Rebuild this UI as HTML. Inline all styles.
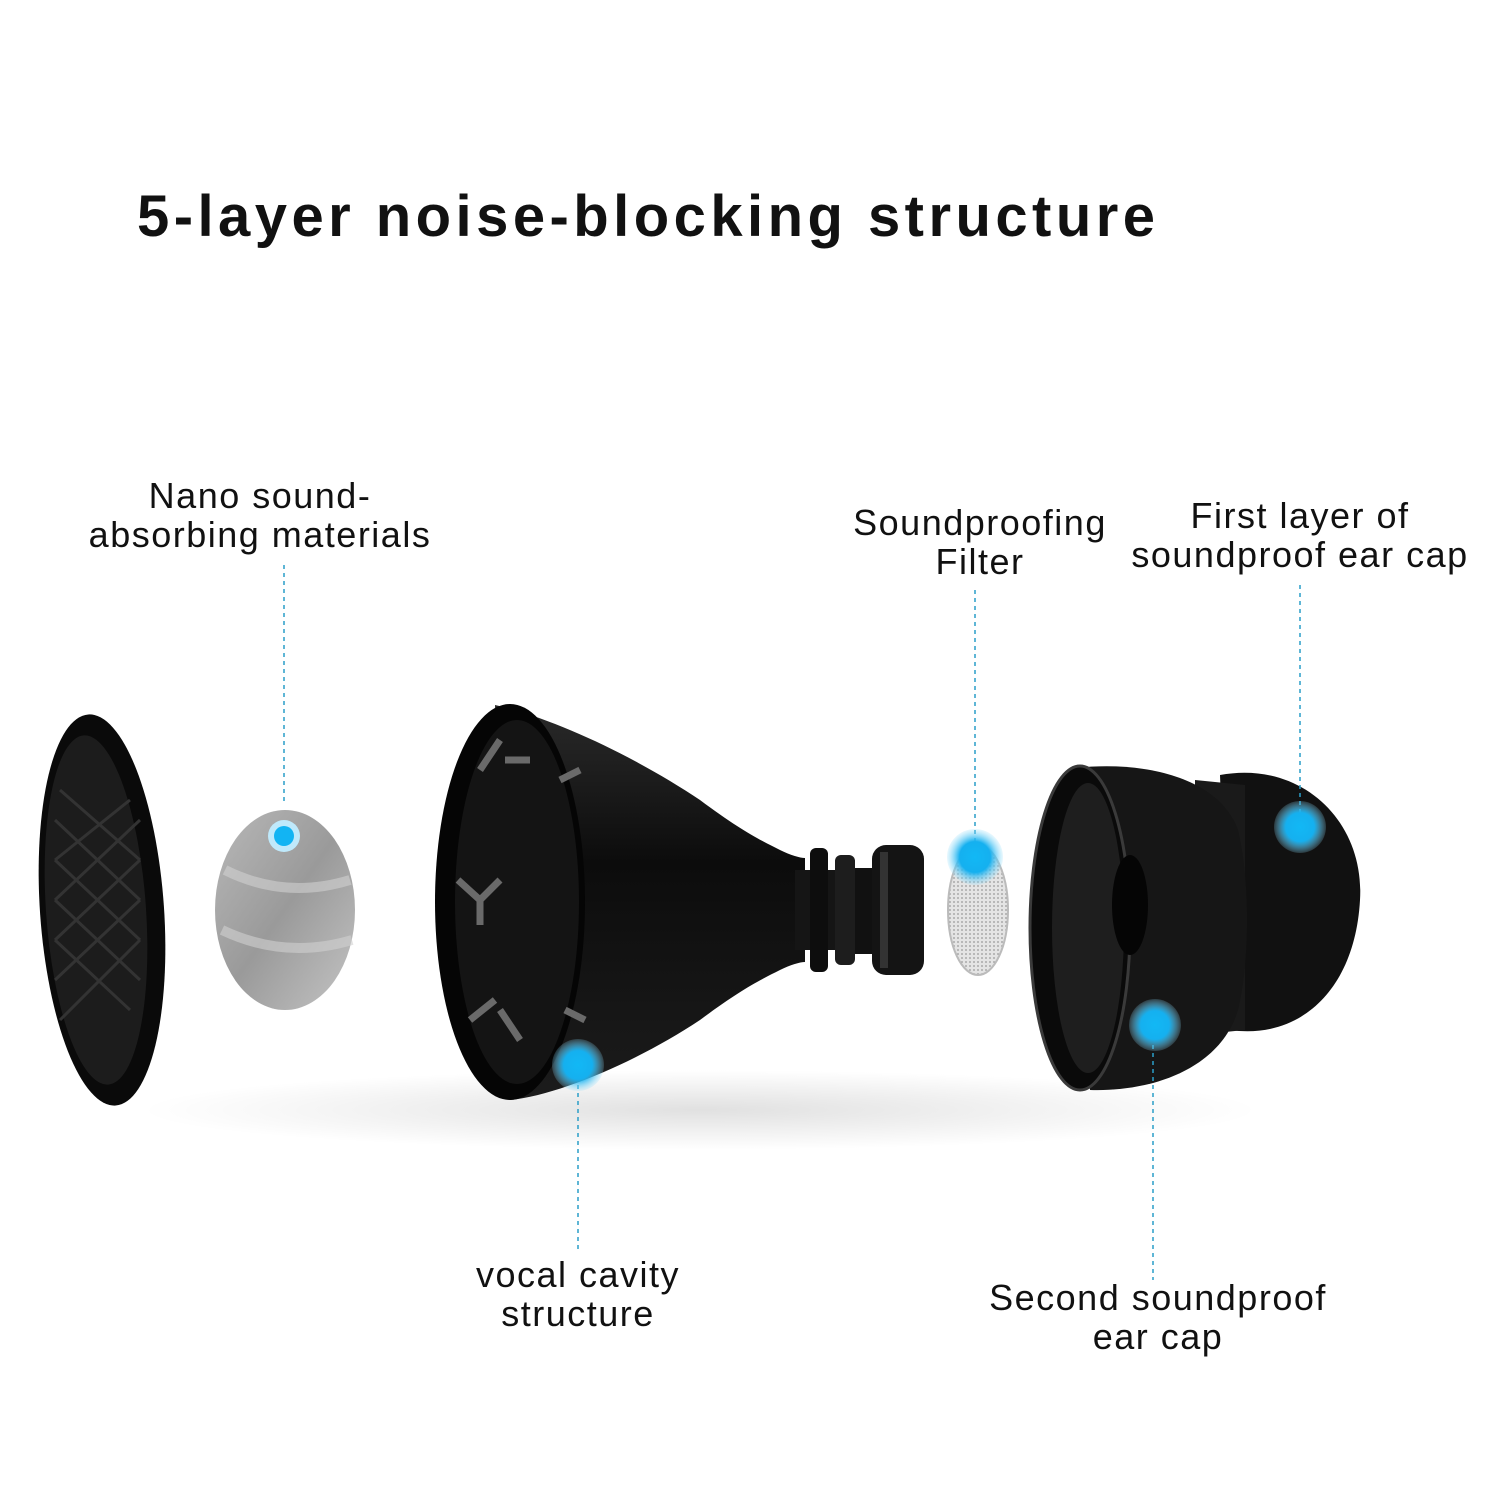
<!DOCTYPE html>
<html><head><meta charset="utf-8"><style>
html,body{margin:0;padding:0;background:#fff}
svg{display:block}
text{font-family:"Liberation Sans",sans-serif;fill:#111}
</style></head><body>
<svg width="1500" height="1500" viewBox="0 0 1500 1500" xmlns="http://www.w3.org/2000/svg">
<defs>
<radialGradient id="blue" cx="50%" cy="50%" r="50%">
<stop offset="0%" stop-color="#12b8f5"/><stop offset="55%" stop-color="#15b0ef"/><stop offset="100%" stop-color="#8fdcfa" stop-opacity="0.2"/>
</radialGradient>
<linearGradient id="gray" x1="0" y1="0" x2="1" y2="1">
<stop offset="0" stop-color="#b8b8b8"/><stop offset="0.5" stop-color="#9a9a9a"/><stop offset="1" stop-color="#c4c4c4"/>
</linearGradient>
<linearGradient id="body" x1="0" y1="0" x2="0" y2="1">
<stop offset="0" stop-color="#2a2a2a"/><stop offset="0.4" stop-color="#0c0c0c"/><stop offset="1" stop-color="#1c1c1c"/>
</linearGradient>
<pattern id="mesh" width="4" height="4" patternUnits="userSpaceOnUse">
<rect width="4" height="4" fill="#e4e4e4"/><circle cx="2" cy="2" r="0.9" fill="#999"/>
</pattern>
<radialGradient id="shadow" cx="50%" cy="50%" r="50%">
<stop offset="0" stop-color="#000" stop-opacity="0.12"/><stop offset="1" stop-color="#000" stop-opacity="0"/>
</radialGradient>
</defs>
<rect width="1500" height="1500" fill="#fff"/>
<text x="137" y="236" font-size="58" font-weight="bold" textLength="1018" lengthAdjust="spacing">5-layer noise-blocking structure</text>

<ellipse cx="700" cy="1110" rx="560" ry="40" fill="url(#shadow)"/>

<!-- left disc -->
<ellipse cx="102" cy="910" rx="62" ry="196" fill="#0a0a0a" transform="rotate(-4 102 910)"/>
<ellipse cx="96" cy="910" rx="50" ry="175" fill="#1c1c1c" transform="rotate(-4 96 910)"/>
<g stroke="#333" stroke-width="3" fill="none">
<path d="M55 820 L140 900 M55 860 L140 940 M55 900 L140 980 M55 940 L130 1010 M60 790 L140 860"/>
<path d="M55 900 L140 820 M55 940 L140 860 M55 980 L140 900 M60 1020 L140 940 M55 860 L130 800"/>
</g>

<!-- gray oval -->
<ellipse cx="285" cy="910" rx="70" ry="100" fill="url(#gray)"/>
<path d="M225 870 Q285 900 350 880 M222 930 Q285 960 352 940" stroke="#d0d0d0" stroke-width="10" fill="none" opacity="0.6"/>

<!-- funnel body -->
<path d="M495 705 C560 720 640 760 700 800 C740 830 760 840 780 850 C790 855 800 858 805 858 L805 962 C800 962 790 965 780 970 C760 980 740 990 700 1020 C640 1060 560 1095 510 1100 Z" fill="url(#body)"/>
<ellipse cx="510" cy="902" rx="75" ry="198" fill="#050505"/>
<ellipse cx="517" cy="902" rx="62" ry="182" fill="#141414"/>
<g stroke="#6a6a6a" stroke-width="7" fill="none">
<path d="M480 770 L500 740 M505 760 L530 760"/>
<path d="M458 880 L480 900 M480 900 L500 880 M480 900 L480 925"/>
<path d="M470 1020 L495 1000 M500 1010 L520 1040"/>
<path d="M560 780 L580 770 M565 1010 L585 1020"/>
</g>
<!-- stem -->
<rect x="795" y="870" width="40" height="80" fill="#151515"/>
<rect x="810" y="848" width="18" height="124" rx="6" fill="#0d0d0d"/>
<rect x="835" y="855" width="20" height="110" rx="6" fill="#1d1d1d"/>
<rect x="855" y="868" width="20" height="86" fill="#111"/>
<rect x="872" y="845" width="52" height="130" rx="14" fill="#141414"/>
<rect x="880" y="852" width="8" height="116" fill="#333"/>

<!-- filter -->
<ellipse cx="978" cy="910" rx="30" ry="65" fill="url(#mesh)" stroke="#bbb" stroke-width="2"/>

<!-- ear cap -->
<path d="M1220 775 C1300 760 1365 820 1360 900 C1355 990 1300 1040 1230 1030 Z" fill="#111"/>
<path d="M1195 780 L1245 785 L1245 1030 L1195 1035 Z" fill="#1a1a1a"/>
<path d="M1075 768 C1150 760 1220 780 1238 830 C1250 880 1250 960 1238 1010 C1220 1070 1150 1092 1090 1090 Z" fill="#161616"/>
<ellipse cx="1080" cy="928" rx="50" ry="162" fill="#0a0a0a" stroke="#3a3a3a" stroke-width="3"/>
<ellipse cx="1088" cy="928" rx="36" ry="145" fill="#1e1e1e"/>
<ellipse cx="1130" cy="905" rx="18" ry="50" fill="#050505"/>

<!-- dotted lines -->
<g stroke="#2a9ec8" stroke-width="1.5" stroke-dasharray="4 4" fill="none">
<line x1="284" y1="565" x2="284" y2="805"/>
<line x1="578" y1="1085" x2="578" y2="1250"/>
<line x1="975" y1="590" x2="975" y2="845"/>
<line x1="1300" y1="585" x2="1300" y2="815"/>
<line x1="1153" y1="1045" x2="1153" y2="1280"/>
</g>

<!-- dots -->
<circle cx="284" cy="836" r="16" fill="#bfe9fb"/><circle cx="284" cy="836" r="10" fill="#12b4f3"/>
<circle cx="578" cy="1065" r="26" fill="url(#blue)"/>
<circle cx="975" cy="857" r="28" fill="url(#blue)"/>
<circle cx="1300" cy="827" r="26" fill="url(#blue)"/>
<circle cx="1155" cy="1025" r="26" fill="url(#blue)"/>

<!-- labels -->
<g font-size="36" text-anchor="middle" letter-spacing="1.5">
<text x="260" y="508">Nano sound-</text>
<text x="260" y="547">absorbing materials</text>
<text x="980" y="535">Soundproofing</text>
<text x="980" y="574">Filter</text>
<text x="1300" y="528">First layer of</text>
<text x="1300" y="567">soundproof ear cap</text>
<text x="578" y="1287">vocal cavity</text>
<text x="578" y="1326">structure</text>
<text x="1158" y="1310">Second soundproof</text>
<text x="1158" y="1349">ear cap</text>
</g>
</svg>
</body></html>
